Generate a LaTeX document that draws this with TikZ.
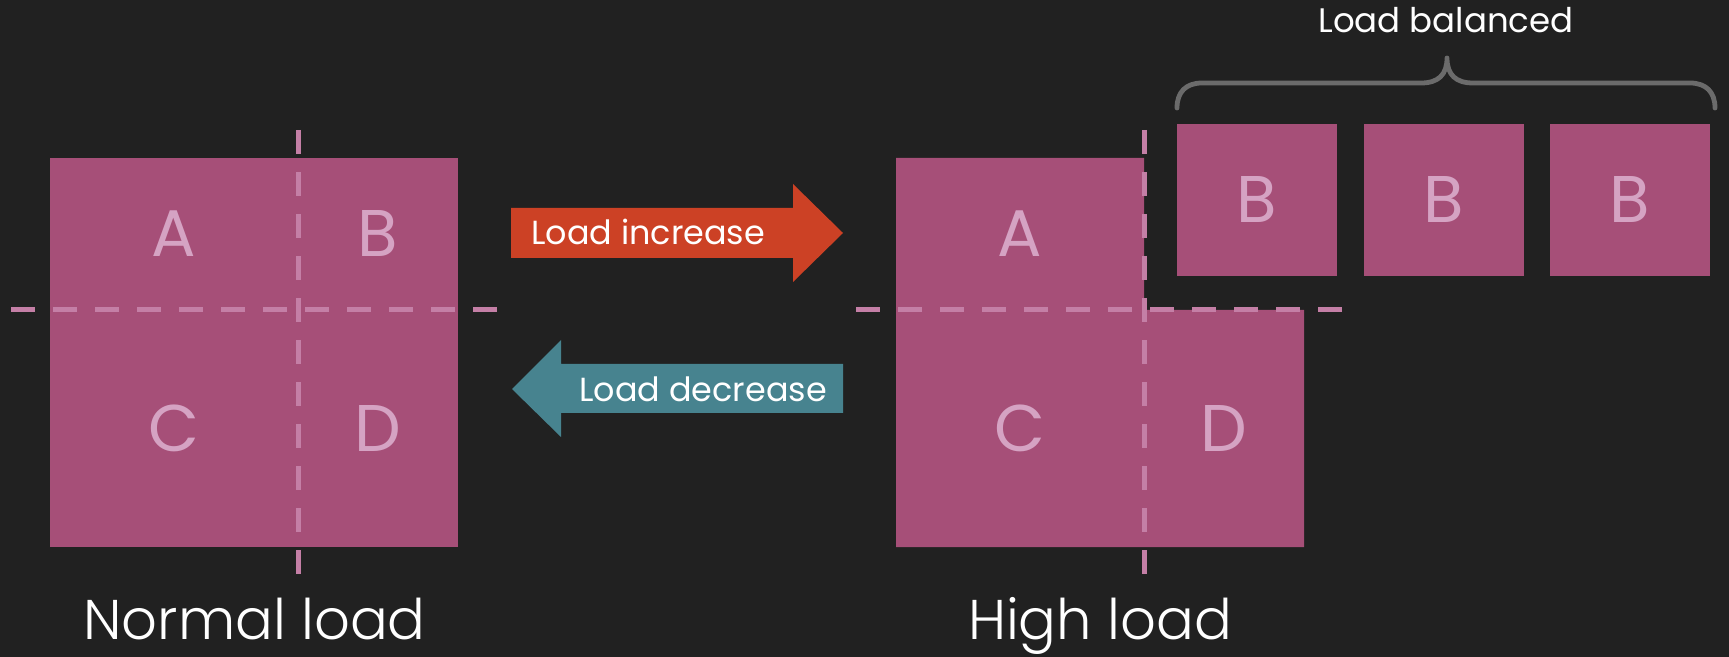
\documentclass[tikz,border=0pt]{standalone}
\usepackage{fontspec}
\setmainfont{Poppins}
\newfontfamily\thinfont{Poppins Light}
\definecolor{bgc}{HTML}{212121}
\definecolor{cellc}{HTML}{A64F78}
\definecolor{letterc}{HTML}{D5A3C3}
\definecolor{splitc}{HTML}{C47FA6}
\definecolor{upc}{HTML}{CC4125}
\definecolor{downc}{HTML}{47838F}
\definecolor{bracec}{HTML}{6B6B6B}
\begin{document}
\begin{tikzpicture}[x=0.5pt,y=-0.5pt,
  cellfill/.style={fill=cellc},
  letter/.style={text=letterc,inner sep=0pt,font=\fontsize{33}{33}\selectfont},
  split/.style={draw=splitc,line width=2.5pt,dash pattern=on 12pt off 9pt},
  caption/.style={text=white,inner sep=0pt,anchor=base,font=\thinfont\fontsize{28}{28}\selectfont},
  arrowtext/.style={text=white,inner sep=0pt,anchor=base west,font=\fontsize{16.7}{17}\selectfont},
  bracetext/.style={text=white,inner sep=0pt,anchor=base,font=\fontsize{17}{17}\selectfont},
  brace/.style={draw=bracec,line width=2.4pt,line cap=round,line join=round}]
\fill[bgc] (0,0) rectangle (1729,657);
\useasboundingbox (0,0) rectangle (1729,657);

% normal load: one square split into four cells
\fill[cellfill] (50,158) rectangle (458,547);
\node[letter] (nA) at (174,234) {A};
\node[letter] (nB) at (378,234) {B};
\node[letter] (nC) at (174,428.5) {C};
\node[letter] (nD) at (378,428.5) {D};
\coordinate (nvt) at (298,130);
\coordinate (nvb) at (298,574);
\coordinate (nhl) at (11,310);
\coordinate (nhr) at (497,310);
\draw[split] (nvt) -- (nvb);
\draw[split] (nhl) -- (nhr);
\node[caption] (normal) at (254.5,639) {Normal load};

% transition arrows
\fill[upc] (511,208) -- (793,208) -- (793,184) -- (843,233) -- (793,282) -- (793,258) -- (511,258) -- cycle;
\node[arrowtext] (inc) at (531,245) {Load increase};
\fill[downc] (843,364) -- (561,364) -- (561,340) -- (512,389) -- (561,437) -- (561,413) -- (843,413) -- cycle;
\node[arrowtext] (dec) at (579,401) {Load decrease};

% high load: B is split off into replicas
\fill[cellfill] (896,158) -- (1144,158) -- (1144,310) -- (1304,310) -- (1304,547) -- (896,547) -- cycle;
\node[letter] (hA) at (1020,234) {A};
\node[letter] (hC) at (1020,428.5) {C};
\node[letter] (hD) at (1224,428.5) {D};
\node[cellfill,minimum width=80pt,minimum height=76pt,inner sep=0pt] (b1) at (1257,200) {};
\node[cellfill,minimum width=80pt,minimum height=76pt,inner sep=0pt] (b2) at (1444,200) {};
\node[cellfill,minimum width=80pt,minimum height=76pt,inner sep=0pt] (b3) at (1630,200) {};
\node[letter] at (b1) {B};
\node[letter] at (b2) {B};
\node[letter] at (b3) {B};
\coordinate (hvt) at (1144,130);
\coordinate (hvb) at (1144,574);
\coordinate (hhl) at (856,310);
\coordinate (hhr) at (1342,310);
\draw[split] (hvt) -- (hvb);
\draw[split] (hhl) -- (hhr);
\node[caption] (high) at (1100,639) {High load};

% brace over the replicas
\coordinate (brl) at (1177,108);
\coordinate (brm) at (1447,58);
\coordinate (brr) at (1715,108);
\draw[brace] (brl) .. controls (1177,92) and (1186,83) .. (1202,83) -- (1421,83)
  .. controls (1438,83) and (1447,75) .. (brm)
  .. controls (1447,75) and (1456,83) .. (1473,83) -- (1690,83)
  .. controls (1706,83) and (1715,92) .. (brr);
\node[bracetext] (bal) at (1446,33) {Load balanced};
\end{tikzpicture}
\end{document}
